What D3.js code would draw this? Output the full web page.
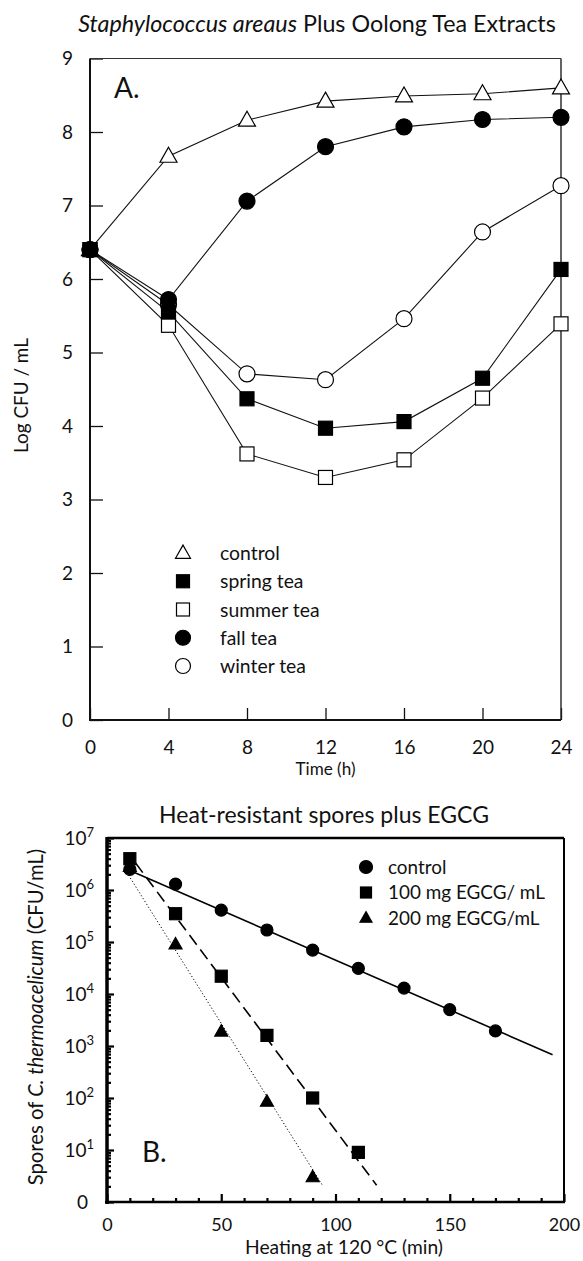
<!DOCTYPE html>
<html><head><meta charset="utf-8">
<script src="https://cdn.jsdelivr.net/npm/d3@7"></script>
<style>
body{margin:0;background:#fff}
svg{display:block}
text{font-family:Lato,"Open Sans",sans-serif;fill:#111}
</style>
</head><body>
<svg id="c" width="583" height="1261"></svg>
<script>
// ---------- Panel A data ----------
const timesA = [0, 4, 8, 12, 16, 20, 24];
const controlA = [6.4, 7.67, 8.16, 8.42, 8.49, 8.52, 8.6];
const springA  = [6.4, 5.55, 4.37, 3.97, 4.06, 4.65, 6.13];
const summerA  = [6.4, 5.37, 3.62, 3.3, 3.54, 4.38, 5.39];
const fallA    = [6.4, 5.72, 7.06, 7.8, 8.07, 8.17, 8.2];
const winterA  = [6.4, 5.65, 4.71, 4.63, 5.46, 6.64, 7.27];
const yTicksA = [0,1,2,3,4,5,6,7,8,9];
const xTicksA = [0,4,8,12,16,20,24];
const legendA = ["control","spring tea","summer tea","fall tea","winter tea"];

// ---------- Panel B data ----------
const timesBControl = [10, 30, 50, 70, 90, 110, 130, 150, 170];
const controlB = [2.5e6, 1.3e6, 4.1e5, 1.7e5, 7e4, 3.1e4, 1.3e4, 5e3, 1.95e3];
const times100 = [10, 30, 50, 70, 90, 110];
const egcg100 = [4e6, 3.5e5, 2.2e4, 1.6e3, 100, 9];
const times200 = [10, 30, 50, 70, 90];
const egcg200 = [2.8e6, 9e4, 1.9e3, 85, 3];
// fitted regression lines (start, end)
const fitControlB = [[8, 2.6e6], [195, 680]];
const fit100 = [[12.5, 3.3e6], [118, 2.1]];
const fit200 = [[8.6, 2.2e6], [94.6, 2]];
const xTicksB = [0, 50, 100, 150, 200];
const yExpB = [0,1,2,3,4,5,6,7];
const legendB = ["control","100 mg EGCG/ mL","200 mg EGCG/mL"];

const svg = d3.select('#c');
function fitText(t, w){
  const cur = t.node().getComputedTextLength();
  const fs = parseFloat(t.attr('font-size'));
  t.attr('font-size', (fs*w/cur).toFixed(2));
}
function marker(g, type, x, y, size, fill){
  if(type==='circle'){
    g.append('circle').attr('cx',x).attr('cy',y).attr('r',size/2)
     .attr('fill',fill).attr('stroke','#000').attr('stroke-width',1.2);
  } else if(type==='square'){
    g.append('rect').attr('x',x-size/2).attr('y',y-size/2).attr('width',size).attr('height',size)
     .attr('fill',fill).attr('stroke','#000').attr('stroke-width',1.2);
  } else {
    const h = size*0.88;
    g.append('path').attr('d',`M${x},${y-h*0.6}L${x+size/2},${y+h*0.4}L${x-size/2},${y+h*0.4}Z`)
     .attr('fill',fill).attr('stroke','#000').attr('stroke-width',1.2).attr('stroke-linejoin','miter');
  }
}

// ================= PANEL A =================
const xA = d3.scaleLinear([0,24],[90,561]);
const yA = d3.scaleLinear([0,9],[720,58.5]);

const tA = svg.append('text').attr('x',317).attr('y',32).attr('text-anchor','middle').attr('font-size',20);
tA.append('tspan').attr('font-style','italic').text('Staphylococcus areaus');
tA.append('tspan').text(' Plus Oolong Tea Extracts');
fitText(tA, 478);

const gA = svg.append('g');
const axYA = gA.append('g').attr('transform',`translate(${xA(0)},0)`)
  .call(d3.axisLeft(yA).tickValues(yTicksA).tickSize(-13).tickPadding(17).tickFormat(d3.format('d')));
const axXA = gA.append('g').attr('transform',`translate(0,${yA(0)})`)
  .call(d3.axisBottom(xA).tickValues(xTicksA).tickSize(-12).tickPadding(21).tickFormat(d3.format('d')));
[axYA, axXA].forEach(a=>{
  a.select('.domain').remove();
  a.selectAll('.tick line').attr('stroke','#111').attr('stroke-width',1.3);
  a.selectAll('.tick text').attr('font-size',19).attr('font-family','Lato,"Open Sans",sans-serif').attr('fill','#111');
});
// frame
gA.append('line').attr('x1',xA(0)).attr('x2',xA(24)).attr('y1',yA(9)).attr('y2',yA(9)).attr('stroke','#333').attr('stroke-width',1);
gA.append('line').attr('x1',xA(24)).attr('x2',xA(24)).attr('y1',yA(9)).attr('y2',yA(0)).attr('stroke','#222').attr('stroke-width',1.4);
gA.append('line').attr('x1',xA(0)).attr('x2',xA(0)).attr('y1',yA(9)).attr('y2',yA(0)+1).attr('stroke','#111').attr('stroke-width',2);
gA.append('line').attr('x1',xA(0)-1).attr('x2',xA(24)).attr('y1',yA(0)).attr('y2',yA(0)).attr('stroke','#111').attr('stroke-width',2);

const seriesA = [
  {name:'control', values:controlA, type:'triangle', fill:'#fff', size:17},
  {name:'winter tea', values:winterA, type:'circle', fill:'#fff', size:16},
  {name:'summer tea', values:summerA, type:'square', fill:'#fff', size:14},
  {name:'spring tea', values:springA, type:'square', fill:'#000', size:14},
  {name:'fall tea', values:fallA, type:'circle', fill:'#000', size:16}
];
const lineA = d3.line().x((d,i)=>xA(timesA[i])).y(d=>yA(d));
seriesA.forEach(s=>{
  gA.append('path').attr('d',lineA(s.values)).attr('fill','none').attr('stroke','#111').attr('stroke-width',1.1);
});
seriesA.forEach(s=>{
  s.values.forEach((v,i)=>marker(gA, s.type, xA(timesA[i]), yA(v), s.size, s.fill));
});
// legend A
const lyA = d3.scalePoint(legendA,[553,666]);
const legTextsA = [];
legendA.forEach(n=>{
  const s = seriesA.find(d=>d.name===n);
  marker(gA, s.type, 183, lyA(n), s.type==='triangle'?15:s.size-1, s.fill);
  legTextsA.push(gA.append('text').attr('x',220).attr('y',lyA(n)).attr('dy','0.37em').attr('font-size',17).text(n));
});
fitText(legTextsA[4], 86);
legTextsA.forEach(t=>t.attr('font-size', legTextsA[4].attr('font-size')));
gA.append('text').attr('x',114).attr('y',98).attr('font-size',28).text('A.');
const tlA = gA.append('text').attr('x',(xA(0)+xA(24))/2).attr('y',775).attr('text-anchor','middle').attr('font-size',17).text('Time (h)');
fitText(tlA,60);
const ylA = gA.append('text').attr('transform','translate(28,395.5) rotate(-90)').attr('text-anchor','middle').attr('font-size',18).text('Log CFU / mL');
fitText(ylA,115);

// ================= PANEL B =================
const xB = d3.scaleLinear([0,200],[107,564]);
const yB = d3.scaleLog([1,1e7],[1202,838]);
const gB = svg.append('g');
const tB = gB.append('text').attr('x',324).attr('y',823).attr('text-anchor','middle').attr('font-size',20).text('Heat-resistant spores plus EGCG');
fitText(tB,330);

const minorY = [];
for(let e=0;e<7;e++) for(let m=2;m<=9;m++) minorY.push(m*Math.pow(10,e));
const axYBm = gB.append('g').attr('transform',`translate(${xB(0)},0)`)
  .call(d3.axisLeft(yB).tickValues(minorY).tickSize(-4).tickFormat(''));
const axYB = gB.append('g').attr('transform',`translate(${xB(0)},0)`)
  .call(d3.axisLeft(yB).tickValues(yExpB.map(e=>Math.pow(10,e))).tickSize(-7).tickPadding(13).tickFormat(''));
axYB.selectAll('.tick text').each(function(d){
  const t = d3.select(this);
  const e = Math.round(Math.log10(d));
  t.attr('font-size',19).attr('fill','#111').attr('font-family','Lato,"Open Sans",sans-serif');
  if(e===0){ t.text('0').attr('x',-19); }
  else {
    t.append('tspan').text('10');
    t.append('tspan').attr('dy','-0.55em').attr('font-size',13).text(e);
  }
});
const minorX = d3.range(0,201,10).filter(v=>v%50!==0);
const axXBm = gB.append('g').attr('transform',`translate(0,${yB(1)})`)
  .call(d3.axisBottom(xB).tickValues(minorX).tickSize(-4).tickFormat(''));
const axXB = gB.append('g').attr('transform',`translate(0,${yB(1)})`)
  .call(d3.axisBottom(xB).tickValues(xTicksB).tickSize(-8).tickPadding(16).tickFormat(d3.format('d')));
axXB.selectAll('.tick text').attr('font-size',18).attr('fill','#111').attr('font-family','Lato,"Open Sans",sans-serif');
[axYBm, axYB, axXBm, axXB].forEach(a=>{
  a.select('.domain').remove();
  a.selectAll('.tick line').attr('stroke','#000').attr('stroke-width',2.2);
});
// frame
gB.append('line').attr('x1',xB(0)).attr('x2',xB(200)).attr('y1',yB(1e7)).attr('y2',yB(1e7)).attr('stroke','#000').attr('stroke-width',2.5);
gB.append('line').attr('x1',xB(200)).attr('x2',xB(200)).attr('y1',yB(1e7)).attr('y2',yB(1)).attr('stroke','#000').attr('stroke-width',2);
gB.append('line').attr('x1',xB(0)).attr('x2',xB(0)).attr('y1',yB(1e7)-1).attr('y2',yB(1)+2).attr('stroke','#000').attr('stroke-width',3.5);
gB.append('line').attr('x1',xB(0)-2).attr('x2',xB(200)+1).attr('y1',yB(1)).attr('y2',yB(1)).attr('stroke','#000').attr('stroke-width',2.5);

const lineB = d3.line().x(d=>xB(d[0])).y(d=>yB(d[1]));
gB.append('path').attr('d',lineB(fitControlB)).attr('stroke','#000').attr('stroke-width',1.6).attr('fill','none');
gB.append('path').attr('d',lineB(fit100)).attr('stroke','#000').attr('stroke-width',1.6).attr('stroke-dasharray','12,6').attr('fill','none');
gB.append('path').attr('d',lineB(fit200)).attr('stroke','#000').attr('stroke-width',1).attr('stroke-dasharray','1.2,2.2').attr('fill','none');

egcg200.forEach((v,i)=>marker(gB,'triangle',xB(times200[i]),yB(v),13,'#000'));
egcg100.forEach((v,i)=>marker(gB,'square',xB(times100[i]),yB(v),12,'#000'));
controlB.forEach((v,i)=>marker(gB,'circle',xB(timesBControl[i]),yB(v),12,'#000'));

// legend B
const lyB = d3.scalePoint(legendB,[867,918]);
const typesB = ['circle','square','triangle'];
const sizesB = [13,11,12];
const legTextsB = [];
legendB.forEach((n,i)=>{
  marker(gB, typesB[i], 366, lyB(n), sizesB[i], '#000');
  legTextsB.push(gB.append('text').attr('x',388).attr('y',lyB(n)).attr('dy','0.36em').attr('font-size',17).text(n));
});
fitText(legTextsB[1],157);
legTextsB.forEach(t=>t.attr('font-size', legTextsB[1].attr('font-size')));

gB.append('text').attr('x',142).attr('y',1162).attr('font-size',28).text('B.');
const xlB = gB.append('text').attr('x',344).attr('y',1254).attr('text-anchor','middle').attr('font-size',17).text('Heating at 120 °C (min)');
fitText(xlB,198);
const ylB = gB.append('text').attr('transform','translate(43,1017) rotate(-90)').attr('text-anchor','middle').attr('font-size',17);
ylB.append('tspan').text('Spores of ');
ylB.append('tspan').attr('font-style','italic').text('C. thermoacelicum');
ylB.append('tspan').text(' (CFU/mL)');
fitText(ylB,337);
</script>
</body></html>
